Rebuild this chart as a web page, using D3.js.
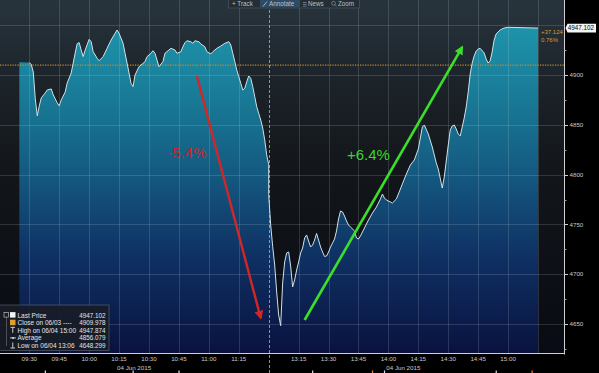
<!DOCTYPE html>
<html><head><meta charset="utf-8">
<script src="https://cdn.jsdelivr.net/npm/d3@7"></script>
<style>
html,body{margin:0;padding:0;background:#000;overflow:hidden}
svg{display:block}
text{font-family:"Liberation Sans",Arial,sans-serif}
</style>
</head><body>
<svg id="c" width="599" height="373"></svg>
<script>
// ---------------- data ----------------
const times = ["09:25","09:30","09:31","09:32","09:33","09:34","09:35","09:36","09:38","09:39","09:41","09:42","09:44","09:45","09:46","09:48","09:49","09:51","09:52","09:53","09:54","09:55","09:56","09:57","09:58","10:00","10:01","10:02","10:04","10:05","10:07","10:09","10:11","10:13","10:14","10:15","10:17","10:18","10:19","10:21","10:22","10:23","10:25","10:26","10:28","10:29","10:31","10:32","10:33","10:34","10:35","10:37","10:38","10:40","10:41","10:43","10:44","10:46","10:47","10:48","10:49","10:51","10:52","10:53","10:55","10:56","10:58","10:59","11:01","11:02","11:04","11:06","11:08","11:10","11:11","11:12","11:13","11:14","11:15","11:16","11:17","11:18","11:19","11:20","11:21","11:22","11:23","11:24","11:25","11:26","11:27","11:28","11:29","11:30",
"13:00","13:01","13:02","13:03","13:04","13:05","13:06","13:07","13:08","13:09","13:10","13:11","13:12","13:13","13:14","13:15","13:16","13:17","13:18","13:19","13:20","13:21","13:22","13:23","13:24","13:25","13:26","13:27","13:28","13:29","13:30","13:31","13:32","13:33","13:34","13:35","13:36","13:37","13:38","13:39","13:40","13:41","13:43","13:44","13:45","13:46","13:48","13:50","13:52","13:54","13:56","13:57","13:58","13:59","14:01","14:02","14:04","14:05","14:07","14:09","14:11","14:13","14:15","14:16","14:17","14:18","14:20","14:22","14:24","14:25","14:27","14:28","14:30","14:31","14:32","14:33","14:34","14:35","14:36","14:37","14:38","14:39","14:40","14:41","14:42","14:43","14:44","14:45","14:46","14:48","14:49","14:50","14:51","14:52","14:53","14:54","14:56","14:58","15:00","15:15"];
const prices = [4912.7,4912.5,4910.5,4903,4876,4859,4869,4877,4882,4885,4886,4880,4872,4869,4875,4883,4892,4902,4912,4922,4931.5,4932.5,4925,4918.5,4925,4935.8,4933.5,4923.5,4916.8,4914.4,4918.4,4926.8,4935.1,4941.9,4945.2,4941.9,4931.8,4921.8,4912,4891.7,4888.3,4900,4908.3,4910,4913.4,4918.4,4921.8,4924.4,4921.8,4915.1,4908.3,4913.4,4921.8,4925.1,4926.8,4925.1,4921.8,4923.4,4928.4,4932.4,4934.4,4933.4,4931.8,4934.4,4933.4,4931.1,4928.4,4923.4,4921.1,4923.4,4926.8,4929.1,4931.8,4933.4,4930.1,4921.8,4913.4,4905,4898.3,4891.7,4884.9,4886.6,4893.3,4899,4896.7,4888.3,4878.2,4868.2,4861.5,4854.8,4846.8,4834.7,4819.7,4810,
4780,4749.4,4727.6,4709.2,4682.1,4659,4648.299,4691.2,4712.3,4721.3,4722.3,4708.2,4687.2,4694.2,4704.2,4712.3,4721.3,4726.3,4736.3,4739.4,4733.3,4727.3,4729.3,4734.3,4740.9,4734.3,4727.3,4722.3,4717.8,4718.3,4722.3,4727.3,4731.3,4735.3,4743.4,4755.4,4763.5,4762.5,4758.4,4753.4,4749.4,4747.4,4743.4,4736.3,4735.3,4738.4,4746.4,4754.4,4761.4,4767.5,4775.5,4780.5,4776.5,4774.5,4772.5,4771.5,4775.5,4780.5,4790.6,4800.6,4809.6,4814.7,4825.7,4836.7,4847.8,4849.8,4840.8,4827.7,4811.6,4805.6,4786.5,4797.6,4829.7,4844.8,4848.8,4849.8,4845.8,4840.8,4838.8,4847.8,4856.8,4867.9,4882.9,4901,4912,4919.1,4924.1,4926.1,4926.8,4922.1,4916.1,4912,4914.1,4923.1,4935.1,4941.2,4945.2,4947.2,4947.874,4947.102];

const priceTicks = [4650,4700,4750,4800,4850,4900];
const priceMinorTicks = [4625,4675,4725,4775,4825,4875,4925];
const gridPrices = [4650,4700,4750,4800,4850,4900,4950];
const timeLabels = ["09:30","09:45","10:00","10:15","10:30","10:45","11:00","11:15","13:15","13:30","13:45","14:00","14:15","14:30","14:45","15:00"];
const gridTimes = ["09:30","09:45","10:00","10:15","10:30","10:45","11:00","11:15","13:15","13:30","13:45","14:00","14:15","14:30","14:45","15:00","15:15"];
const dateLabels = [["10:15","04 Jun 2015"],["14:15","04 Jun 2015"]];
const breakTime = "11:30";
const prevClose = 4909.978;
const lastPrice = 4947.102;
const changeText = ["+37.124","0.76%"];
const legendNames = ["Last Price","Close on 06/03 ----","High on 06/04 15:00","Average","Low on 06/04 13:06"];
const legendValues = ["4947.102","4909.978","4947.874","4856.079","4648.299"];
const downArrow = [["10:54",4899],["11:26",4656]];
const upArrow = [["13:18",4654],["14:37",4928]];
const downLabel = ["10:49",4822,"-5.4%"];
const upLabel = ["13:50",4820,"+6.4%"];
const eventTimes = [["09:38","#ddd"],["10:22","#ddd"],["10:45","#ddd"],["13:22","#ddd"],["13:52","#e08a2a"],["13:58","#ddd"],["14:54","#ddd"],["15:12","#e08a2a"]];

// ---------------- scales ----------------
function sIdx(t){const [h,m]=t.split(":").map(Number);const v=h*60+m;return v<12*60? v-570 : 120+(v-780);}
const W=599,H=373, plotR=564.5, plotB=353.5;
const x = d3.scaleLinear().domain([0,240]).range([29.3,508.1]);
const y = d3.scaleLinear().domain([4650,4900]).range([324,75]);
const data = times.map((t,i)=>({i:sIdx(t),v:prices[i]}));

const svg = d3.select("#c");
const defs = svg.append("defs");
const bg = defs.append("linearGradient").attr("id","bg").attr("gradientUnits","userSpaceOnUse").attr("x1",0).attr("x2",0).attr("y1",0).attr("y2",plotB);
[[0,"#28343d"],[0.25,"#1b2228"],[0.5,"#121519"],[1,"#090b14"]].forEach(s=>bg.append("stop").attr("offset",s[0]).attr("stop-color",s[1]));
const fg = defs.append("linearGradient").attr("id","fg").attr("gradientUnits","userSpaceOnUse").attr("x1",0).attr("x2",0).attr("y1",0).attr("y2",plotB);
[[0.07,"#1e94ab"],[0.3,"#187794"],[0.5,"#14587f"],[0.72,"#0f3164"],[1,"#09123f"]].forEach(s=>fg.append("stop").attr("offset",s[0]).attr("stop-color",s[1]));

// background
svg.append("rect").attr("width",W).attr("height",H).attr("fill","#000");
svg.append("rect").attr("x",0).attr("y",0).attr("width",plotR).attr("height",plotB).attr("fill","url(#bg)");

// area
const areaGen = d3.area().x(d=>x(d.i)).y0(plotB).y1(d=>y(d.v));
svg.append("path").datum(data).attr("d",areaGen).attr("fill","url(#fg)");

// grid
const g = svg.append("g");
g.selectAll(".hg").data(gridPrices).join("line")
 .attr("x1",0).attr("x2",plotR).attr("y1",d=>Math.round(y(d))+0.5).attr("y2",d=>Math.round(y(d))+0.5)
 .attr("stroke","rgba(210,220,230,0.17)");
g.selectAll(".vg").data(gridTimes).join("line")
 .attr("y1",0).attr("y2",plotB).attr("x1",d=>Math.round(x(sIdx(d)))+0.5).attr("x2",d=>Math.round(x(sIdx(d)))+0.5)
 .attr("stroke","rgba(210,220,230,0.17)");

// previous close dotted line
svg.append("line").attr("x1",0).attr("x2",plotR).attr("y1",y(prevClose)).attr("y2",y(prevClose))
 .attr("stroke","#c98a2a").attr("stroke-width",1.2).attr("stroke-dasharray","1.2,1.3");

// session break dashed
const bx = Math.round(x(sIdx(breakTime)))+0.5;
svg.append("line").attr("x1",bx).attr("x2",bx).attr("y1",0).attr("y2",H)
 .attr("stroke","#aab3ba").attr("stroke-dasharray","3,2").attr("opacity",0.8);

// price line
const lineGen = d3.line().x(d=>x(d.i)).y(d=>y(d.v));
svg.append("path").datum(data.slice(1)).attr("d",lineGen).attr("fill","none")
 .attr("stroke","#cfe2e8").attr("stroke-width",1).attr("stroke-linejoin","round");

// x axis area
svg.append("line").attr("x1",0).attr("x2",plotR).attr("y1",plotB).attr("y2",plotB).attr("stroke","#d0d0d0");
svg.selectAll(".xl").data(timeLabels).join("text")
 .attr("x",d=>x(sIdx(d))).attr("y",361).attr("text-anchor","middle")
 .attr("font-size",6.2).attr("fill","#c8c8c8").text(d=>d);
svg.selectAll(".dl").data(dateLabels).join("text")
 .attr("x",d=>x(sIdx(d[0]))+(d[0]==="10:15"?15:-15)).attr("y",369.5).attr("text-anchor","middle")
 .attr("font-size",6.2).attr("fill","#c8c8c8").text(d=>d[1]);
svg.selectAll(".ev").data(eventTimes).join("rect")
 .attr("x",d=>x(sIdx(d[0]))-0.5).attr("y",370.5).attr("width",1.2).attr("height",2.5).attr("fill",d=>d[1]);

// right axis
svg.append("line").attr("x1",plotR).attr("x2",plotR).attr("y1",0).attr("y2",plotB+1).attr("stroke","#d0d0d0");
svg.selectAll(".mt").data(priceTicks).join("line")
 .attr("x1",plotR).attr("x2",plotR+3.5).attr("y1",d=>Math.round(y(d))+0.5).attr("y2",d=>Math.round(y(d))+0.5).attr("stroke","#d0d0d0");
svg.selectAll(".nt").data(priceMinorTicks).join("line")
 .attr("x1",plotR).attr("x2",plotR+2).attr("y1",d=>Math.round(y(d))+0.5).attr("y2",d=>Math.round(y(d))+0.5).attr("stroke","#a0a0a0");
svg.selectAll(".yl").data(priceTicks).join("text")
 .attr("x",569.5).attr("y",d=>y(d)+2.2).attr("font-size",6.2).attr("fill","#c8c8c8").text(d=>d);

// last price box
const ly = y(lastPrice);
svg.append("path").attr("d",`M${plotR+1},${ly} L${plotR+3},${ly-4.3} H596 V${ly+4.3} H${plotR+3} Z`).attr("fill","#f4f4f4");
svg.append("text").attr("x",581).attr("y",ly+2.3).attr("text-anchor","middle").attr("font-size",6.3).attr("fill","#000").text(lastPrice.toFixed(3));
svg.append("text").attr("x",541).attr("y",34.3).attr("font-size",6).attr("fill","#d89a35").text(changeText[0]);
svg.append("text").attr("x",541).attr("y",42.3).attr("font-size",6).attr("fill","#d89a35").text(changeText[1]);

// annotations
function arrow(pts,color,id,w){
  defs.append("marker").attr("id",id).attr("viewBox","0 0 10 10").attr("refX",8).attr("refY",5)
   .attr("markerWidth",9).attr("markerHeight",9).attr("markerUnits","userSpaceOnUse").attr("orient","auto")
   .append("path").attr("d","M0,0 L10,5 L0,10 Z").attr("fill",color);
  svg.append("line").attr("x1",x(sIdx(pts[0][0]))).attr("y1",y(pts[0][1]))
   .attr("x2",x(sIdx(pts[1][0]))).attr("y2",y(pts[1][1]))
   .attr("stroke",color).attr("stroke-width",w).attr("marker-end",`url(#${id})`);
}
arrow(downArrow,"#d42626","mr",2.4);
arrow(upArrow,"#3bdf2a","mg",2.6);
svg.append("text").attr("x",x(sIdx(downLabel[0]))).attr("y",y(downLabel[1])+5.5).attr("text-anchor","middle")
 .attr("font-size",15).attr("fill","#c9262b").text(downLabel[2]);
svg.append("text").attr("x",x(sIdx(upLabel[0]))).attr("y",y(upLabel[1])+5.5).attr("text-anchor","middle")
 .attr("font-size",15).attr("fill","#3ad62a").text(upLabel[2]);

// legend
const lg = svg.append("g");
lg.append("rect").attr("x",-1).attr("y",305).attr("width",110).attr("height",45.5)
 .attr("fill","rgba(24,28,38,0.92)").attr("stroke","rgba(110,120,130,0.5)");
const ly0=317.6, lstep=7.6;
lg.append("line").attr("x1",6.5).attr("x2",6.5).attr("y1",ly0).attr("y2",ly0+4*lstep-2).attr("stroke","#888").attr("stroke-dasharray","1,1");
lg.append("rect").attr("x",4).attr("y",ly0-5).attr("width",4.5).attr("height",4.5).attr("fill","none").attr("stroke","#bbb").attr("stroke-width",0.7);
lg.append("rect").attr("x",10).attr("y",ly0-5.5).attr("width",5.5).attr("height",5.5).attr("fill","#f2f2f2");
lg.append("rect").attr("x",10).attr("y",ly0+lstep-5.5).attr("width",5.5).attr("height",5.5).attr("fill","#e0a030");
lg.append("path").attr("d",`M10.5,${ly0+2*lstep-5.5}H15 M12.75,${ly0+2*lstep-5.5}V${ly0+2*lstep}`).attr("stroke","#ddd").attr("stroke-width",0.9).attr("fill","none");
lg.append("path").attr("d",`M10,${ly0+3*lstep-2.5}H16`).attr("stroke","#ddd").attr("stroke-width",0.9);
lg.append("circle").attr("cx",13).attr("cy",ly0+3*lstep-2.5).attr("r",1).attr("fill","#ddd");
lg.append("path").attr("d",`M12.75,${ly0+4*lstep-5.5}V${ly0+4*lstep} M10.5,${ly0+4*lstep}H15`).attr("stroke","#ddd").attr("stroke-width",0.9).attr("fill","none");
lg.selectAll(".ln").data(legendNames).join("text").attr("x",17.5).attr("y",(d,i)=>ly0+i*lstep)
 .attr("font-size",6.5).attr("fill","#e4e4e4").text(d=>d);
lg.selectAll(".lv").data(legendValues).join("text").attr("x",105.5).attr("y",(d,i)=>ly0+i*lstep)
 .attr("text-anchor","end").attr("font-size",6.3).attr("fill","#e4e4e4").text(d=>d);

// toolbar
const tb = svg.append("g");
tb.append("rect").attr("x",228.5).attr("y",-2).attr("width",131).attr("height",10).attr("fill","#252d35").attr("stroke","#46525c").attr("stroke-width",0.8);
tb.append("rect").attr("x",260).attr("y",-1).attr("width",40).attr("height",8.5).attr("fill","#2e4b66");
[["+ Track",232],["Annotate",269],["News",308],["Zoom",338]].forEach(d=>{
  tb.append("text").attr("x",d[1]).attr("y",6).attr("font-size",6.3).attr("fill","#b8c2ca").text(d[0]);
});
tb.append("path").attr("d","M263,6.5 L267,1.5").attr("stroke","#9fc0e0").attr("stroke-width",0.9);
tb.append("path").attr("d","M303,2.5H306.5 M303,4.3H306.5 M303,6.1H306.5").attr("stroke","#8a949c").attr("stroke-width",0.7);
tb.append("circle").attr("cx",333.5).attr("cy",3.3).attr("r",1.9).attr("fill","none").attr("stroke","#8a949c").attr("stroke-width",0.7);
tb.append("path").attr("d","M334.8,4.6L336.5,6.3").attr("stroke","#8a949c").attr("stroke-width",0.8);
</script>
</body></html>
